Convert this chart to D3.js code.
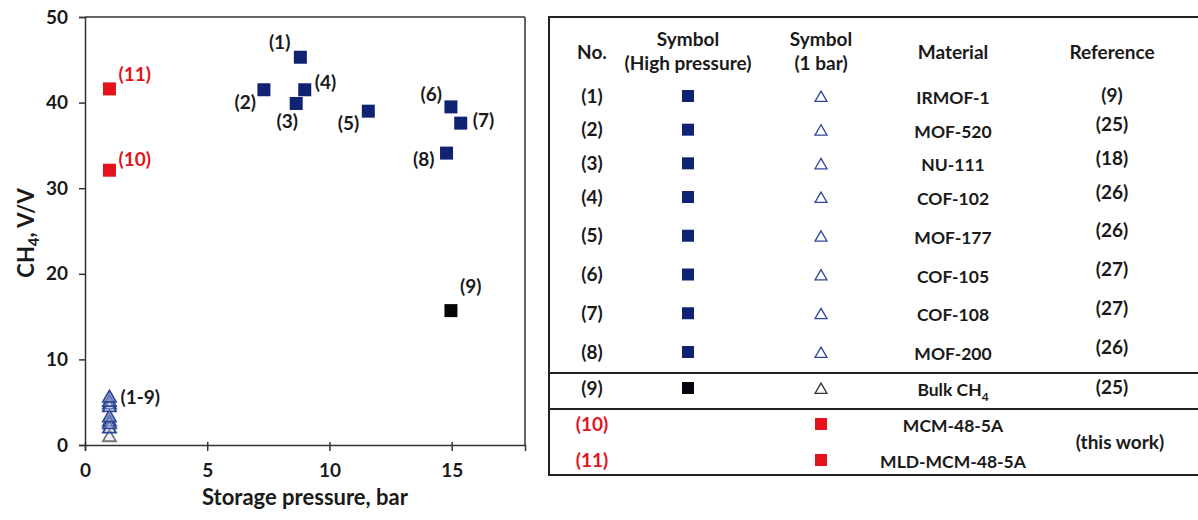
<!DOCTYPE html>
<meta charset="utf-8">
<style type="text/css">
  body { margin: 0; background-color: white; }
  text { font-family: Lato, 'Open Sans', sans-serif; font-weight: bold; fill: #1a1a1a; }
</style>
<script src="https://d3js.org/d3.v7.min.js"></script>
<div id="chart"></div>
<script>

// high pressure points (1)-(9)
var hpLabels = ['(1)', '(2)', '(3)', '(4)', '(5)', '(6)', '(7)', '(8)', '(9)'];
var hpPressure = [8.81, 7.32, 8.64, 8.99, 11.59, 14.97, 15.37, 14.79, 14.97];
var hpUptake = [45.3, 41.5, 39.9, 41.5, 39.0, 39.5, 37.6, 34.1, 15.7];

// 1 bar points (1)-(9), all at 1 bar
var lowUptake = [5.6, 5.1, 4.5, 4.8, 3.3, 2.5, 2.0, 2.8, 1.0];

// this work (10), (11)
var workLabels = ['(10)', '(11)'];
var workPressure = [1.0, 1.0];
var workUptake = [32.1, 41.6];

var xTicks = [0, 5, 10, 15];
var yTicks = [0, 10, 20, 30, 40, 50];

// table
var tableNo = ['(1)', '(2)', '(3)', '(4)', '(5)', '(6)', '(7)', '(8)', '(9)', '(10)', '(11)'];
var tableMaterial = ['IRMOF-1', 'MOF-520', 'NU-111', 'COF-102', 'MOF-177', 'COF-105', 'COF-108', 'MOF-200', 'Bulk CH', 'MCM-48-5A', 'MLD-MCM-48-5A'];
var tableRef = ['(9)', '(25)', '(18)', '(26)', '(26)', '(27)', '(27)', '(26)', '(25)'];

(function() {
var navy = '#0f2372', red = '#e3121b', triBlue = '#2d4796';

var svg = d3.select('#chart').append('svg')
  .attr('width', 1198).attr('height', 520);

// ---- scatter plot ----
var x = d3.scaleLinear().domain([0, 18]).range([85, 525]);
var y = d3.scaleLinear().domain([0, 50]).range([445, 17]);

// frame top / right
svg.append('line').attr('x1', x(0)).attr('x2', x(18)).attr('y1', y(50)).attr('y2', y(50))
  .attr('stroke', '#333').attr('stroke-width', 1.5);
svg.append('line').attr('x1', x(18)).attr('x2', x(18)).attr('y1', y(50)).attr('y2', y(0))
  .attr('stroke', '#333').attr('stroke-width', 1.5);

var xAxis = svg.append('g').attr('transform', 'translate(0,' + y(0) + ')')
  .call(d3.axisBottom(x).tickValues(xTicks).tickSize(6).tickPadding(13));
var yAxis = svg.append('g').attr('transform', 'translate(' + x(0) + ',0)')
  .call(d3.axisLeft(y).tickValues(yTicks).tickSize(6).tickPadding(11));
[xAxis, yAxis].forEach(function(a) {
  a.select('.domain').attr('stroke', '#333').attr('stroke-width', 1.5);
  a.selectAll('.tick line').attr('stroke', '#333').attr('stroke-width', 1.5);
  a.selectAll('.tick text').style('font-size', '19px').attr('fill', '#1a1a1a')
    .style('font-family', 'Lato, sans-serif').style('font-weight', 'bold');
});
xAxis.selectAll('.tick line').attr('y1', -3);

svg.append('text').attr('x', 305).attr('y', 505).attr('text-anchor', 'middle')
  .style('font-size', '22px').text('Storage pressure, bar');
var yt = svg.append('text').attr('transform', 'translate(34,233) rotate(-90)')
  .attr('text-anchor', 'middle').style('font-size', '22px');
yt.append('tspan').text('CH');
yt.append('tspan').attr('dy', 5).style('font-size', '15px').text('4');
yt.append('tspan').attr('dy', -5).text(', V/V');

// 1 bar triangles
var tri = d3.symbol().type(d3.symbolTriangle).size(75);
svg.selectAll('.low').data(lowUptake.slice().reverse()).enter().append('path')
  .attr('class', 'low')
  .attr('d', tri)
  .attr('transform', function(d) { return 'translate(' + x(1) + ',' + (y(d) + 1) + ')'; })
  .attr('fill', '#c8d0ea').attr('fill-opacity', 0.35)
  .attr('stroke', function(d, i) { return i === 0 ? '#777' : triBlue; })
  .attr('stroke-width', 1.8);

var sq = 13;
// high pressure squares
svg.selectAll('.hp').data(hpUptake).enter().append('rect')
  .attr('class', 'hp')
  .attr('x', function(d, i) { return x(hpPressure[i]) - sq / 2; })
  .attr('y', function(d) { return y(d) - sq / 2; })
  .attr('width', sq).attr('height', sq)
  .attr('fill', function(d, i) { return i === 8 ? '#050505' : navy; });

// this work squares
svg.selectAll('.work').data(workUptake).enter().append('rect')
  .attr('class', 'work')
  .attr('x', function(d, i) { return x(workPressure[i]) - sq / 2; })
  .attr('y', function(d) { return y(d) - sq / 2; })
  .attr('width', sq).attr('height', sq)
  .attr('fill', red);

// point labels: [anchor, dx, dy]
var hpLabelPos = [
  ['end', -10, -8], ['end', -8, 19], ['middle', -9, 25], ['start', 10, -1],
  ['end', -9, 19], ['end', -9, -6], ['start', 12, 4], ['end', -12, 13], ['start', 9, -18]
];
svg.selectAll('.hplab').data(hpLabels).enter().append('text')
  .attr('class', 'hplab')
  .attr('x', function(d, i) { return x(hpPressure[i]) + hpLabelPos[i][1]; })
  .attr('y', function(d, i) { return y(hpUptake[i]) + hpLabelPos[i][2]; })
  .attr('text-anchor', function(d, i) { return hpLabelPos[i][0]; })
  .style('font-size', '19px').text(function(d) { return d; });

var workLabelDy = [-4, -8];
svg.selectAll('.wlab').data(workLabels).enter().append('text')
  .attr('class', 'wlab')
  .attr('x', function(d, i) { return x(workPressure[i]) + 9; })
  .attr('y', function(d, i) { return y(workUptake[i]) + workLabelDy[i]; })
  .style('font-size', '19px').style('fill', red).text(function(d) { return d; });

svg.append('text').attr('x', x(1) + 11).attr('y', y(d3.max(lowUptake)) + 7)
  .style('font-size', '19px').text('(1-9)');

// ---- table ----
var row = d3.scaleLinear().domain([0, 3, 7, 10]).range([96, 197, 352, 460]);
var col = { no: 592, hp: 688, low: 821, mat: 953, ref: 1112 };
var tLeft = 549, tRight = 1202, tTop = 17, tBottom = 475;
var tbl = svg.append('g');

tbl.append('rect').attr('x', tLeft).attr('y', tTop)
  .attr('width', tRight - tLeft).attr('height', tBottom - tTop)
  .attr('fill', 'none').attr('stroke', '#222').attr('stroke-width', 2);
[7.5, 8.5].forEach(function(r) {
  tbl.append('line').attr('x1', tLeft).attr('x2', tRight)
    .attr('y1', row(r) + 3).attr('y2', row(r) + 3)
    .attr('stroke', '#222').attr('stroke-width', 2);
});

var hdr = [
  [col.no, 52, 'No.'], [col.hp, 39, 'Symbol'], [col.hp, 63, '(High pressure)'],
  [col.low, 39, 'Symbol'], [col.low, 63, '(1 bar)'], [col.mat, 52, 'Material'],
  [col.ref, 52, 'Reference']
];
tbl.selectAll('.hdr').data(hdr).enter().append('text')
  .attr('class', 'hdr')
  .attr('x', function(d) { return d[0]; }).attr('y', function(d) { return d[1]; })
  .attr('dy', '0.35em').attr('text-anchor', 'middle').style('font-size', '19px')
  .text(function(d) { return d[2]; });

tbl.selectAll('.no').data(tableNo).enter().append('text')
  .attr('class', 'no')
  .attr('x', col.no).attr('y', function(d, i) { return row(i); })
  .attr('dy', '0.35em').attr('text-anchor', 'middle').style('font-size', '19px')
  .style('fill', function(d, i) { return i > 8 ? red : '#1a1a1a'; })
  .text(function(d) { return d; });

var matText = tbl.selectAll('.mat').data(tableMaterial).enter().append('text')
  .attr('class', 'mat')
  .attr('x', col.mat).attr('y', function(d, i) { return row(i) + 2; })
  .attr('dy', '0.35em').attr('text-anchor', 'middle').style('font-size', '17.5px')
  .text(function(d) { return d; });
matText.filter(function(d, i) { return i === 8; }).append('tspan')
  .attr('dy', 5).style('font-size', '12px').text('4');

tbl.selectAll('.ref').data(tableRef).enter().append('text')
  .attr('class', 'ref')
  .attr('x', col.ref).attr('y', function(d, i) { return row(i) - (i > 0 && i < 8 ? 5 : 1); })
  .attr('dy', '0.35em').attr('text-anchor', 'middle').style('font-size', '19px')
  .text(function(d) { return d; });
tbl.append('text').attr('x', col.ref + 8).attr('y', (row(9) + row(10)) / 2)
  .attr('dy', '0.35em').attr('text-anchor', 'middle').style('font-size', '19px')
  .text('(this work)');

var tsq = 12;
tbl.selectAll('.tsq').data(hpLabels).enter().append('rect')
  .attr('class', 'tsq')
  .attr('x', col.hp - tsq / 2).attr('y', function(d, i) { return row(i) - tsq / 2; })
  .attr('width', tsq).attr('height', tsq)
  .attr('fill', function(d, i) { return i === 8 ? '#050510' : navy; });
tbl.selectAll('.ttri').data(hpLabels).enter().append('path')
  .attr('class', 'ttri')
  .attr('d', d3.symbol().type(d3.symbolTriangle).size(62))
  .attr('transform', function(d, i) { return 'translate(' + col.low + ',' + (row(i) + 2) + ')'; })
  .attr('fill', 'white').attr('stroke', function(d, i) { return i === 8 ? '#333' : triBlue; })
  .attr('stroke-width', 1.3);
tbl.selectAll('.twork').data(workLabels).enter().append('rect')
  .attr('class', 'twork')
  .attr('x', col.low - tsq / 2).attr('y', function(d, i) { return row(9 + i) - tsq / 2; })
  .attr('width', tsq).attr('height', tsq).attr('fill', red);
})();

</script>
